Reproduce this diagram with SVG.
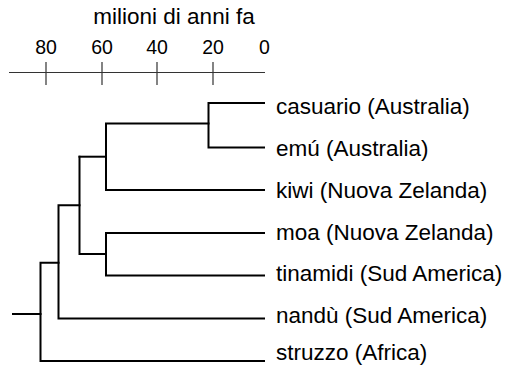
<svg xmlns="http://www.w3.org/2000/svg" width="507" height="371" viewBox="0 0 507 371">
<style>
.lbl{font-family:"Liberation Sans",Arial,sans-serif;font-size:22.5px;fill:#000}
.num{font-family:"Liberation Sans",Arial,sans-serif;font-size:19.5px;fill:#000;text-anchor:middle}
.br{fill:none;stroke:#000;stroke-width:2;stroke-linejoin:miter;stroke-linecap:square}
.ax{fill:none;stroke:#333;stroke-width:1.2}
</style>
<rect width="507" height="371" fill="#fff"/>
<g id="axis">
<text class="lbl" x="174" y="24" text-anchor="middle">milioni di anni fa</text>
<text class="num" x="46" y="54">80</text>
<text class="num" x="102" y="54">60</text>
<text class="num" x="157" y="54">40</text>
<text class="num" x="213" y="54">20</text>
<text class="num" x="264.5" y="54">0</text>
<path class="ax" d="M9,72.5 H265 M46,62 V85 M102,62 V85 M157,62 V85 M213,62 V85"/>
</g>
<g id="connectors">
<path class="br" d="M264,103 H208.5 V147.5 H264"/>
<path class="br" d="M208.5,123.5 H106 V190 H264"/>
<path class="br" d="M106,156.7 H79.5"/>
<path class="br" d="M264,233 H106 V275.5 H264"/>
<path class="br" d="M106,254 H79.5 V156.7"/>
<path class="br" d="M79.5,205.3 H58.5 V318.5 H264"/>
<path class="br" d="M58.5,262.7 H40.5 V361 H264"/>
<path class="br" d="M40.5,314 H13"/>
</g>
<g id="casuario"><text class="lbl" x="276" y="113.5">casuario (Australia)</text></g>
<g id="emu"><text class="lbl" x="276" y="155.5">emú (Australia)</text></g>
<g id="kiwi"><text class="lbl" x="276" y="197.5">kiwi (Nuova Zelanda)</text></g>
<g id="moa"><text class="lbl" x="276" y="239.5">moa (Nuova Zelanda)</text></g>
<g id="tinamidi"><text class="lbl" x="276" y="281">tinamidi (Sud America)</text></g>
<g id="nandu"><text class="lbl" x="276" y="322.5">nandù (Sud America)</text></g>
<g id="struzzo"><text class="lbl" x="276" y="360">struzzo (Africa)</text></g>
</svg>
